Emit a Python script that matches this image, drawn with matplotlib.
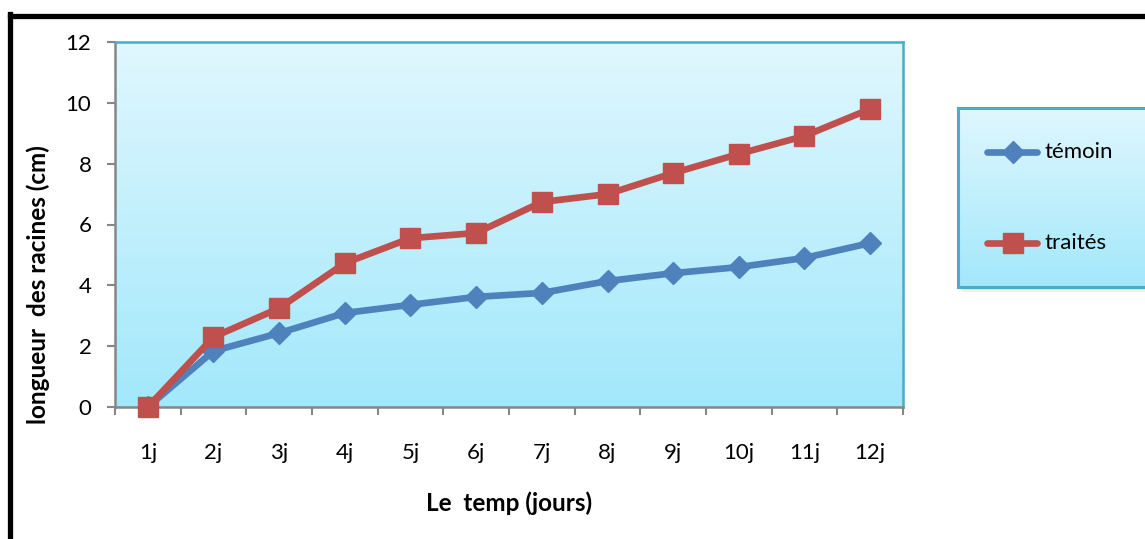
import numpy as np
import matplotlib.pyplot as plt
from matplotlib.lines import Line2D
from matplotlib.patches import Rectangle
from matplotlib.colors import LinearSegmentedColormap

plt.rcParams['font.family'] = ['Lato', 'DejaVu Sans']

jours = ['1j', '2j', '3j', '4j', '5j', '6j', '7j', '8j', '9j', '10j', '11j', '12j']
temoin = [0, 1.84, 2.43, 3.09, 3.36, 3.62, 3.75, 4.14, 4.40, 4.60, 4.90, 5.39]
traites = [0, 2.30, 3.25, 4.73, 5.55, 5.72, 6.74, 7.00, 7.69, 8.32, 8.91, 9.80]

BLUE = '#4F81BD'
RED = '#C0504D'
TEAL = '#4BACC6'
AXIS_GRAY = '#868686'
FS = 16
FS_LAB = 17.5

sky = LinearSegmentedColormap.from_list('sky', ['#A2E8FB', '#E0F7FE'])
grad = np.linspace(0, 1, 256).reshape(-1, 1)

fig = plt.figure(figsize=(11.45, 5.39), dpi=100)
ax = fig.add_axes([115 / 1145, 132 / 539, 788 / 1145, 365 / 539])

x = np.arange(len(jours))
ax.set_xlim(-0.5, len(jours) - 0.5)
ax.set_ylim(0, 12)

# gradient fill behind the plot area
ax.imshow(grad, cmap=sky, origin='lower', aspect='auto',
          extent=[-0.5, len(jours) - 0.5, 0, 12], zorder=0)

ax.plot(x, temoin, color=BLUE, lw=4.8, marker='D', ms=11,
        solid_capstyle='round', zorder=3, label='témoin')
ax.plot(x, traites, color=RED, lw=4.8, marker='s', ms=14,
        solid_capstyle='round', zorder=4, label='traités', clip_on=False)

ax.set_yticks(np.arange(0, 13, 2))
ax.set_xticks(x)
ax.set_xticklabels(jours)
ax.set_xticks(np.arange(-0.5, len(jours)), minor=True)
ax.tick_params(axis='x', which='major', length=0, pad=26, labelsize=FS)
ax.tick_params(axis='x', which='minor', length=6, width=1.5, color=AXIS_GRAY)
ax.tick_params(axis='y', length=6, width=1.5, color=AXIS_GRAY, pad=11, labelsize=FS)

for side in ('left', 'bottom'):
    ax.spines[side].set_color(AXIS_GRAY)
    ax.spines[side].set_linewidth(1.8)
for side in ('top', 'right'):
    ax.spines[side].set_color(TEAL)
    ax.spines[side].set_linewidth(1.8)

ax.set_xlabel('Le  temp (jours)', fontsize=FS_LAB, fontweight='bold')
ax.xaxis.set_label_coords(0.5, -0.232)
ax.set_ylabel('longueur  des racines (cm)', fontsize=FS_LAB, fontweight='bold')
ax.yaxis.set_label_coords(-0.082, 0.335)

# legend panel with soft shadow
lx, ly, lw_, lh = 958 / 1145, 252 / 539, 200 / 1145, 179 / 539
for i, a in enumerate([0.10, 0.10, 0.12]):
    off = (i + 1) * 1.5
    fig.patches.append(Rectangle((lx + off / 1145, ly - off / 539), lw_, lh,
                                 transform=fig.transFigure, color='gray',
                                 alpha=a, lw=0, zorder=1))
lax = fig.add_axes([lx, ly, lw_, lh], zorder=2)
lax.imshow(grad, cmap=sky, origin='lower', aspect='auto', extent=[0, 1, 0, 1])
lax.set_xlim(0, 1)
lax.set_ylim(0, 1)
lax.set_xticks([])
lax.set_yticks([])
for s in lax.spines.values():
    s.set_color(TEAL)
    s.set_linewidth(2.2)

for yy, col, mk, ms, name in [(0.755, BLUE, 'D', 11, 'témoin'),
                              (0.245, RED, 's', 14, 'traités')]:
    lax.add_line(Line2D([0.145, 0.395], [yy, yy], color=col, lw=4.8,
                        solid_capstyle='round'))
    lax.add_line(Line2D([0.273], [yy], color=col, marker=mk, ms=ms, lw=0))
    lax.text(0.432, yy, name, fontsize=FS, va='center', ha='left')

# outer black frame along the top and left edges
fig.add_artist(Line2D([9.5 / 1145, 9.5 / 1145], [0, 1 - 14 / 539],
                      transform=fig.transFigure, color='black', lw=3.8,
                      solid_capstyle='projecting'))
fig.add_artist(Line2D([9.5 / 1145, 1], [1 - 16 / 539, 1 - 16 / 539],
                      transform=fig.transFigure, color='black', lw=3.8,
                      solid_capstyle='projecting'))

fig.savefig('out.png', dpi=100)
